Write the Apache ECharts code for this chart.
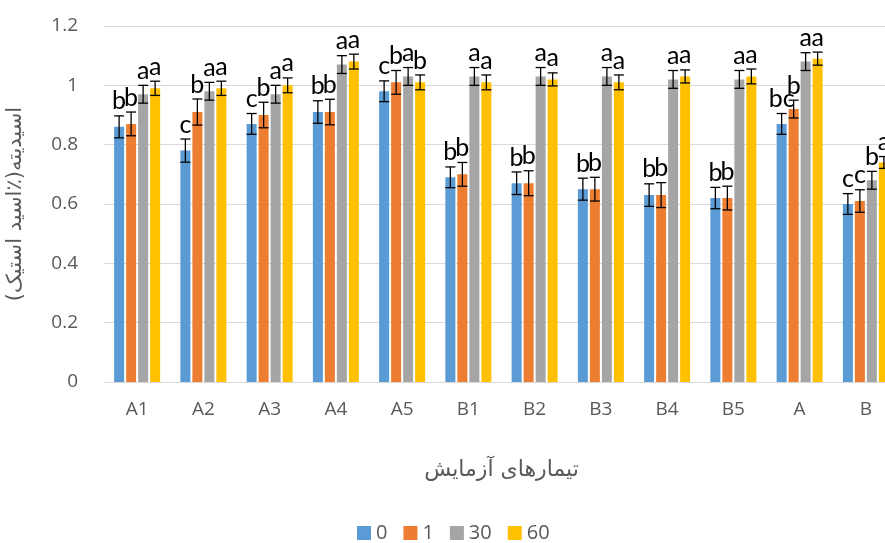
<!DOCTYPE html>
<html>
<head>
<meta charset="utf-8">
<script src="https://cdn.jsdelivr.net/npm/echarts@6/dist/echarts.min.js"></script>
<style>
  html, body { margin: 0; padding: 0; background: #fff; }
  #chart { width: 885px; height: 543px; }
</style>
</head>
<body>
<div id="chart"></div>
<script>
// treatments and the four series (0, 1, 30, 60)
var categories = ['A1', 'A2', 'A3', 'A4', 'A5', 'B1', 'B2', 'B3', 'B4', 'B5', 'A', 'B'];
var seriesNames = ['0', '1', '30', '60'];
var colors = ['#5b9bd5', '#ed7d31', '#a5a5a5', '#ffc000'];

var s0  = [0.86, 0.78, 0.87, 0.91, 0.98, 0.69, 0.67, 0.65, 0.63, 0.62, 0.87, 0.60];
var s1  = [0.87, 0.91, 0.90, 0.91, 1.01, 0.70, 0.67, 0.65, 0.63, 0.62, 0.92, 0.61];
var s30 = [0.97, 0.98, 0.97, 1.07, 1.03, 1.03, 1.03, 1.03, 1.02, 1.02, 1.08, 0.68];
var s60 = [0.99, 0.99, 1.00, 1.08, 1.01, 1.01, 1.02, 1.01, 1.03, 1.03, 1.09, 0.74];

var e0  = [0.037, 0.039, 0.035, 0.038, 0.035, 0.035, 0.038, 0.037, 0.038, 0.036, 0.035, 0.035];
var e1  = [0.040, 0.044, 0.043, 0.043, 0.040, 0.040, 0.042, 0.040, 0.042, 0.040, 0.030, 0.038];
var e30 = [0.030, 0.030, 0.030, 0.030, 0.030, 0.030, 0.030, 0.030, 0.030, 0.030, 0.030, 0.030];
var e60 = [0.024, 0.024, 0.025, 0.025, 0.025, 0.025, 0.022, 0.025, 0.022, 0.025, 0.022, 0.020];

var l0  = ['b', 'c', 'c', 'b', 'c', 'b', 'b', 'b', 'b', 'b', 'bc', 'c'];
var l1  = ['b', 'b', 'b', 'b', 'b', 'b', 'b', 'b', 'b', 'b', 'b', 'c'];
var l30 = ['a', 'a', 'a', 'a', 'a', 'a', 'a', 'a', 'a', 'a', 'a', 'b'];
var l60 = ['a', 'a', 'a', 'a', 'b', 'a', 'a', 'a', 'a', 'a', 'a', 'a'];

var yTicks = [0, 0.2, 0.4, 0.6, 0.8, 1, 1.2];

var values = [s0, s1, s30, s60];
var errs = [e0, e1, e30, e60];
var letters = [l0, l1, l30, l60];

var barW = 10, barStep = 12;
var fontLat = "'Open Sans', 'Noto Sans', sans-serif";
var fontFa = "'DejaVu Sans', sans-serif";

var myChart = echarts.init(document.getElementById('chart'));

var series = [];
values.forEach(function (vals, i) {
    series.push({
        name: seriesNames[i],
        type: 'bar',
        barWidth: barW,
        barGap: '20%',
        itemStyle: { color: colors[i] },
        data: vals
    });
});

// error bars + significance letters, drawn from the same scales
values.forEach(function (vals, i) {
    var data = vals.map(function (v, k) { return [k, v, errs[i][k], letters[i][k]]; });
    series.push({
        type: 'custom',
        silent: true,
        z: 5,
        data: data,
        renderItem: function (params, api) {
            var k = api.value(0), v = api.value(1), e = api.value(2);
            var off = (i - 1.5) * barStep;
            var hi = api.coord([k, v + e]);
            var lo = api.coord([k, v - e]);
            var x = hi[0] + off;
            var cap = 5;
            var ls = { stroke: '#000', lineWidth: 1.3 };
            return {
                type: 'group',
                children: [
                    { type: 'line', shape: { x1: x, y1: hi[1], x2: x, y2: lo[1] }, style: ls },
                    { type: 'line', shape: { x1: x - cap, y1: hi[1], x2: x + cap, y2: hi[1] }, style: ls },
                    { type: 'line', shape: { x1: x - cap, y1: lo[1], x2: x + cap, y2: lo[1] }, style: ls },
                    {
                        type: 'text',
                        style: {
                            text: letters[i][k],
                            x: x,
                            y: hi[1] - 2,
                            align: 'center',
                            verticalAlign: 'bottom',
                            fill: '#000',
                            font: '25px Lato, sans-serif'
                        }
                    }
                ]
            };
        }
    });
});

var option = {
    animation: false,
    grid: { left: 104, width: 795, top: 26, bottom: 161, outerBoundsMode: 'none', containLabel: false },
    legend: {
        data: seriesNames,
        top: 518,
        left: 352,
        itemWidth: 14,
        itemHeight: 14,
        itemGap: 16,
        icon: 'rect',
        textStyle: { color: '#595959', fontSize: 20, fontFamily: fontLat }
    },
    xAxis: {
        type: 'category',
        data: categories,
        name: 'تیمارهای آزمایش',
        nameLocation: 'middle',
        nameGap: 77,
        nameTextStyle: { color: '#595959', fontSize: 22, fontFamily: fontFa },
        axisLine: { lineStyle: { color: '#d9d9d9', width: 1 } },
        axisTick: { show: false },
        axisLabel: { color: '#595959', fontSize: 19, fontFamily: fontLat, margin: 18 }
    },
    yAxis: {
        type: 'value',
        min: 0,
        max: 1.2,
        interval: 0.2,
        name: 'اسیدیته(٪اسید استیک)',
        nameLocation: 'middle',
        nameGap: 78,
        nameRotate: 90,
        nameTextStyle: { color: '#595959', fontSize: 21, fontFamily: fontFa },
        axisLine: { show: false },
        axisTick: { show: false },
        splitLine: { lineStyle: { color: '#d9d9d9', width: 1 } },
        axisLabel: {
            color: '#595959', fontSize: 19, fontFamily: fontLat, margin: 26,
            formatter: function (v) {
                var t = yTicks.filter(function (y) { return Math.abs(y - v) < 1e-9; })[0];
                return t === undefined ? '' : String(t);
            }
        }
    },
    series: series
};
myChart.setOption(option);
</script>
</body>
</html>
